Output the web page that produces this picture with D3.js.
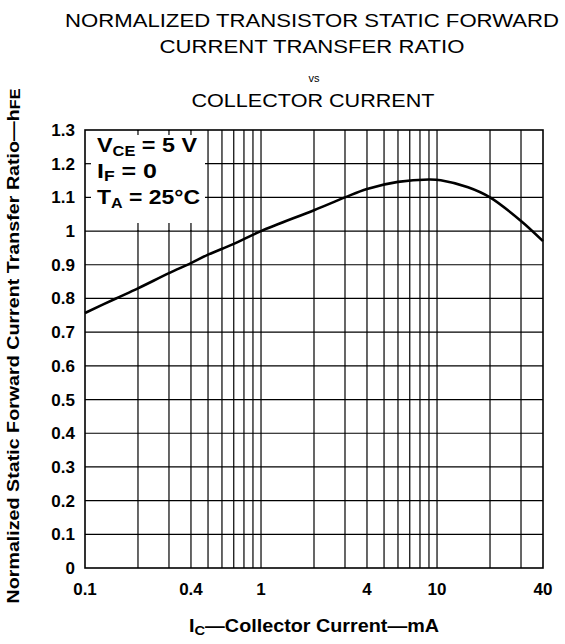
<!DOCTYPE html>
<html>
<head>
<meta charset="utf-8">
<script src="https://cdn.jsdelivr.net/npm/d3@7"></script>
<style>
  html, body { margin: 0; padding: 0; background: #fff; }
  svg { display: block; }
  text { font-family: "Liberation Sans", Arial, Helvetica, sans-serif; fill: #000; }
</style>
</head>
<body>
<svg id="chart" width="565" height="644"></svg>
<script>
// ---- data ----
const currentMA = [0.1, 0.15, 0.2, 0.3, 0.4, 0.5, 0.7, 1, 2, 3, 4, 6, 9, 10.5, 15, 20, 30, 40];
const hfeNorm   = [0.757, 0.80, 0.83, 0.875, 0.905, 0.93, 0.962, 1.0, 1.062, 1.10, 1.125, 1.146, 1.153, 1.151, 1.13, 1.10, 1.03, 0.97];
const xTickLabels = [0.1, 0.4, 1, 4, 10, 40];
const xGridValues = [0.2, 0.3, 0.4, 0.5, 0.6, 0.7, 0.8, 0.9, 1, 2, 3, 4, 5, 6, 7, 8, 9, 10, 20, 30];
const yTickValues = [0, 0.1, 0.2, 0.3, 0.4, 0.5, 0.6, 0.7, 0.8, 0.9, 1, 1.1, 1.2, 1.3];
const titleLines = ["NORMALIZED TRANSISTOR STATIC FORWARD", "CURRENT TRANSFER RATIO", "vs", "COLLECTOR CURRENT"];

// ---- layout ----
const L = 85, R = 543, T = 130, B = 568;
const svg = d3.select("#chart");
const x = d3.scaleLog().domain([0.1, 40]).range([L, R]);
const y = d3.scaleLinear().domain([0, 1.3]).range([B, T]);

// titles
const cx = 312;
svg.append("text").attr("x", cx).attr("y", 27).attr("text-anchor", "middle")
  .attr("font-size", 18.5).attr("textLength", 494).attr("lengthAdjust", "spacingAndGlyphs").text(titleLines[0]);
svg.append("text").attr("x", cx).attr("y", 53).attr("text-anchor", "middle")
  .attr("font-size", 18.5).attr("textLength", 305).attr("lengthAdjust", "spacingAndGlyphs").text(titleLines[1]);
svg.append("text").attr("x", cx + 2).attr("y", 82).attr("text-anchor", "middle")
  .attr("font-size", 11).text(titleLines[2]);
svg.append("text").attr("x", cx + 1).attr("y", 107).attr("text-anchor", "middle")
  .attr("font-size", 18.5).attr("textLength", 243).attr("lengthAdjust", "spacingAndGlyphs").text(titleLines[3]);

// grid
const grid = svg.append("g").attr("stroke", "#000").attr("stroke-width", 1.2);
grid.selectAll("line.v").data(xGridValues).join("line")
  .attr("x1", d => x(d)).attr("x2", d => x(d)).attr("y1", T).attr("y2", B);
grid.selectAll("line.h").data(yTickValues.slice(1, -1)).join("line")
  .attr("x1", L).attr("x2", R).attr("y1", d => y(d)).attr("y2", d => y(d));

// legend box (white area covering grid)
const boxR = 205, boxB = y(1.0);
svg.append("rect").attr("x", L + 1).attr("y", T + 1).attr("width", boxR - L - 1).attr("height", boxB - T - 2).attr("fill", "#fff");
const tk = svg.append("g").attr("stroke", "#000").attr("stroke-width", 1.2);
xGridValues.filter(d => x(d) < boxR).forEach(d => {
  tk.append("line").attr("x1", x(d)).attr("x2", x(d)).attr("y1", T).attr("y2", T + 5);
  tk.append("line").attr("x1", x(d)).attr("x2", x(d)).attr("y1", boxB - 8).attr("y2", boxB);
});
yTickValues.filter(d => d > 1 && d < 1.3).forEach(d => {
  tk.append("line").attr("x1", L).attr("x2", L + 6).attr("y1", y(d)).attr("y2", y(d));
});

// frame
svg.append("rect").attr("x", L).attr("y", T).attr("width", R - L).attr("height", B - T)
  .attr("fill", "none").attr("stroke", "#000").attr("stroke-width", 1.6);

// curve
const line = d3.line().x((d, i) => x(currentMA[i])).y(d => y(d)).curve(d3.curveCatmullRom.alpha(0.5));
svg.append("path").datum(hfeNorm).attr("d", line).attr("fill", "none")
  .attr("stroke", "#000").attr("stroke-width", 2.6).attr("stroke-linejoin", "round");

// y tick labels
svg.append("g").selectAll("text").data(yTickValues).join("text")
  .attr("x", 75).attr("y", d => y(d) + 6).attr("text-anchor", "end")
  .attr("font-size", 17).attr("font-weight", "bold")
  .text(d => d3.format("~g")(d));

// x tick labels
svg.append("g").selectAll("text").data(xTickLabels).join("text")
  .attr("x", d => x(d)).attr("y", 595).attr("text-anchor", "middle")
  .attr("font-size", 17).attr("font-weight", "bold")
  .text(d => d3.format("~g")(d));

// legend text
const lg = svg.append("g").attr("font-weight", "bold");
const t1 = lg.append("text").attr("x", 97).attr("y", 152).attr("font-size", 20)
  .attr("textLength", 100).attr("lengthAdjust", "spacingAndGlyphs");
t1.append("tspan").text("V");
t1.append("tspan").attr("font-size", 14).attr("dy", 4).text("CE");
t1.append("tspan").attr("dy", -4).text(" = 5 V");
const t2 = lg.append("text").attr("x", 97).attr("y", 178).attr("font-size", 20)
  .attr("textLength", 60).attr("lengthAdjust", "spacingAndGlyphs");
t2.append("tspan").text("I");
t2.append("tspan").attr("font-size", 14).attr("dy", 3).text("F");
t2.append("tspan").attr("dy", -3).text(" = 0");
const t3 = lg.append("text").attr("x", 97).attr("y", 204).attr("font-size", 20)
  .attr("textLength", 103).attr("lengthAdjust", "spacingAndGlyphs");
t3.append("tspan").text("T");
t3.append("tspan").attr("font-size", 14).attr("dy", 4).text("A");
t3.append("tspan").attr("dy", -4).text(" = 25°C");

// axis titles
const xt = svg.append("text").attr("x", 314).attr("y", 632).attr("text-anchor", "middle")
  .attr("font-size", 17.5).attr("font-weight", "bold").attr("textLength", 250).attr("lengthAdjust", "spacingAndGlyphs");
xt.append("tspan").text("I");
xt.append("tspan").attr("font-size", 13).attr("dy", 3).text("C");
xt.append("tspan").attr("dy", -3).text("—Collector Current—mA");

const yt = svg.append("text").attr("transform", "translate(19,346) rotate(-90)").attr("text-anchor", "middle")
  .attr("font-size", 17).attr("font-weight", "bold").attr("textLength", 515).attr("lengthAdjust", "spacingAndGlyphs");
yt.append("tspan").text("Normalized Static Forward Current Transfer Ratio—h");
yt.append("tspan").attr("font-size", 14).attr("dy", 1).text("FE");
</script>
</body>
</html>
